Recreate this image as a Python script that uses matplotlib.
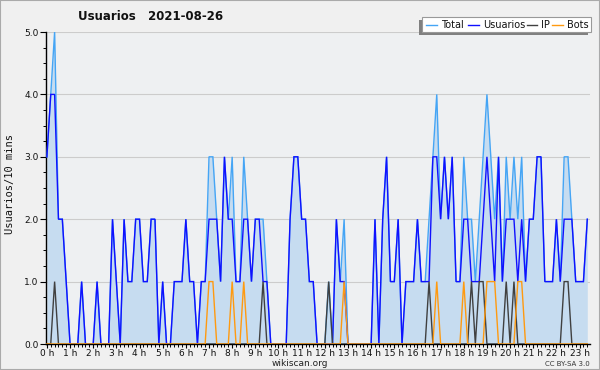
import matplotlib
matplotlib.use("Agg")
import matplotlib.pyplot as plt
import numpy as np
from matplotlib.ticker import FixedLocator, MultipleLocator, FormatStrFormatter
from matplotlib.lines import Line2D
from matplotlib.patches import Rectangle

# 10-minute slots starting at 0:00
usuarios = [3, 4, 4, 2, 2, 1, 0, 0, 0, 1, 0, 0,
            0, 1, 0, 0, 0, 2, 1, 0, 2, 1, 1, 2,
            2, 1, 1, 2, 2, 0, 1, 0, 0, 1, 1, 1,
            2, 1, 1, 0, 1, 1, 2, 2, 2, 1, 3, 2,
            2, 1, 1, 2, 2, 1, 2, 2, 1, 1, 0, 0,
            0, 0, 0, 2, 3, 3, 2, 2, 1, 1, 0, 0,
            0, 0, 0, 2, 1, 1, 0, 0, 0, 0, 0, 0,
            0, 2, 0, 2, 3, 1, 1, 2, 0, 1, 1, 1,
            2, 1, 1, 1, 3, 3, 2, 3, 2, 3, 1, 1,
            2, 2, 1, 1, 1, 2, 3, 2, 1, 3, 1, 2,
            2, 2, 1, 2, 1, 2, 2, 3, 3, 1, 1, 1,
            2, 1, 2, 2, 2, 1, 1, 1, 2]
ip = [0, 0, 1, 0, 0, 0, 0, 0, 0, 0, 0, 0,
      0, 0, 0, 0, 0, 0, 0, 0, 0, 0, 0, 0,
      0, 0, 0, 0, 0, 0, 0, 0, 0, 0, 0, 0,
      0, 0, 0, 0, 0, 0, 0, 0, 0, 0, 0, 0,
      0, 0, 0, 0, 0, 0, 0, 0, 1, 0, 0, 0,
      0, 0, 0, 0, 0, 0, 0, 0, 0, 0, 0, 0,
      0, 1, 0, 0, 0, 0, 0, 0, 0, 0, 0, 0,
      0, 0, 0, 0, 0, 0, 0, 0, 0, 0, 0, 0,
      0, 0, 0, 1, 0, 0, 0, 0, 0, 0, 0, 0,
      0, 0, 1, 0, 1, 1, 0, 0, 0, 0, 0, 1,
      0, 1, 0, 0, 0, 0, 0, 0, 0, 0, 0, 0,
      0, 0, 1, 1, 0, 0, 0, 0, 0]
bots = [0, 0, 0, 0, 0, 0, 0, 0, 0, 0, 0, 0,
        0, 0, 0, 0, 0, 0, 0, 0, 0, 0, 0, 0,
        0, 0, 0, 0, 0, 0, 0, 0, 0, 0, 0, 0,
        0, 0, 0, 0, 0, 0, 1, 1, 0, 0, 0, 0,
        1, 0, 0, 1, 0, 0, 0, 0, 0, 0, 0, 0,
        0, 0, 0, 0, 0, 0, 0, 0, 0, 0, 0, 0,
        0, 0, 0, 0, 0, 1, 0, 0, 0, 0, 0, 0,
        0, 0, 0, 0, 0, 0, 0, 0, 0, 0, 0, 0,
        0, 0, 0, 0, 0, 1, 0, 0, 0, 0, 0, 0,
        1, 0, 0, 0, 0, 0, 1, 1, 1, 0, 0, 0,
        0, 0, 1, 1, 0, 0, 0, 0, 0, 0, 0, 0,
        0, 0, 0, 0, 0, 0, 0, 0, 0]
total = [3, 4, 5, 2, 2, 1, 0, 0, 0, 1, 0, 0,
         0, 1, 0, 0, 0, 2, 1, 0, 2, 1, 1, 2,
         2, 1, 1, 2, 2, 0, 1, 0, 0, 1, 1, 1,
         2, 1, 1, 0, 1, 1, 3, 3, 2, 1, 3, 2,
         3, 1, 1, 3, 2, 1, 2, 2, 2, 1, 0, 0,
         0, 0, 0, 2, 3, 3, 2, 2, 1, 1, 0, 0,
         0, 1, 0, 2, 1, 2, 0, 0, 0, 0, 0, 0,
         0, 2, 0, 2, 3, 1, 1, 2, 0, 1, 1, 1,
         2, 1, 1, 2, 3, 4, 2, 3, 2, 3, 1, 1,
         3, 2, 2, 1, 2, 3, 4, 3, 2, 3, 1, 3,
         2, 3, 2, 3, 1, 2, 2, 3, 3, 1, 1, 1,
         2, 1, 3, 3, 2, 1, 1, 1, 2]
hour_ticks = list(range(24))
hour_labels = [f"{h} h" for h in hour_ticks]
y_ticks = [0, 1, 2, 3, 4, 5]
series_names = ["Total", "Usuarios", "IP", "Bots"]
series_colors = ["#45a5f5", "#1010ff", "#404040", "#ff9a10"]

NARROW = ["Liberation Sans Narrow", "DejaVu Sans"]

W, H = 600, 370
fig = plt.figure(figsize=(6, 3.7), dpi=100)
fig.patch.set_facecolor("#f0f0f0")

def fx(px):
    return px / W

def fy(py):
    return 1 - py / H

left, right, top, bottom = 45.5, 590, 32, 344
ax = fig.add_axes([fx(left), fy(bottom), fx(right) - fx(left), fy(top) - fy(bottom)])
ax.set_facecolor("#eef0f2")

x = np.arange(len(total)) / 6.0
ax.fill_between(x, total, 0, color="#c6dcf0", lw=0, zorder=1)
for vals, col in zip([total, usuarios, ip, bots], series_colors):
    ax.plot(x, vals, color=col, lw=1.0, zorder=3, solid_joinstyle="miter")

ax.set_xlim(-0.06, 23.45)
ax.set_ylim(0, 5)
ax.yaxis.set_major_locator(FixedLocator(y_ticks))
ax.yaxis.set_minor_locator(MultipleLocator(0.25))
ax.yaxis.set_major_formatter(FormatStrFormatter("%.1f"))
ax.xaxis.set_major_locator(FixedLocator(hour_ticks))
ax.set_xticklabels(hour_labels)
ax.xaxis.set_minor_locator(MultipleLocator(1 / 6))
ax.grid(axis="y", which="major", color="#cccccc", lw=0.8, zorder=0)
ax.set_axisbelow(True)
for s in ["top", "right"]:
    ax.spines[s].set_visible(False)
for s in ["left", "bottom"]:
    ax.spines[s].set_color("black")
    ax.spines[s].set_linewidth(1.0)
ax.tick_params(axis="y", which="major", direction="out", length=4, width=0.8,
               labelsize=6.5, pad=1.0, colors="black", labelcolor="#111111")
ax.tick_params(axis="x", which="major", direction="out", length=3, width=0.8,
               labelsize=6.5, pad=0.3, colors="black", labelcolor="#111111")
ax.tick_params(axis="both", which="minor", direction="out", length=2.2, width=0.7)
for lab in ax.get_xticklabels() + ax.get_yticklabels():
    lab.set_family(NARROW)

fig.text(fx(151), fy(17), "Usuarios   2021-08-26", fontsize=8.5, fontweight="bold",
         ha="center", va="center", color="#111111")
fig.text(fx(10), fy(184), "Usuarios/10 mins", rotation=90, family="DejaVu Sans Mono",
         fontsize=7.5, ha="center", va="center", color="#111111")
fig.text(fx(300), fy(364), "wikiscan.org", fontsize=6.5, ha="center", va="center", color="#222222")
fig.text(fx(590), fy(364), "CC BY-SA 3.0", fontsize=5, ha="right", va="center", color="#333333")

# legend (manual)
lx0, lx1, ly0, ly1 = 422, 591, 17, 32
fig.patches.append(Rectangle((fx(lx0 - 3), fy(ly1 + 3)), fx(lx1 - lx0), fy(ly0) - fy(ly1),
                             transform=fig.transFigure, facecolor="#808080", edgecolor="none", zorder=5))
fig.patches.append(Rectangle((fx(lx0), fy(ly1)), fx(lx1 - lx0), fy(ly0) - fy(ly1),
                             transform=fig.transFigure, facecolor="white", edgecolor="#999999",
                             lw=0.8, zorder=6))
line_x = [(426, 437), (468, 479), (527, 537), (552, 563)]
text_x = [441, 483, 541, 567]
for name, col, (a, b), tx in zip(series_names, series_colors, line_x, text_x):
    fig.lines.append(Line2D([fx(a), fx(b)], [fy(24.5), fy(24.5)], transform=fig.transFigure,
                            color=col, lw=1.0, zorder=7))
    fig.text(fx(tx), fy(24.5), name, fontsize=7, family=NARROW, ha="left", va="center",
             color="#111111", zorder=8)

fig.patches.append(Rectangle((0, 0), 1, 1, transform=fig.transFigure, fill=False,
                             edgecolor="#aaaaaa", lw=1.5, zorder=10))

fig.savefig("out.png", dpi=100, facecolor=fig.get_facecolor())
